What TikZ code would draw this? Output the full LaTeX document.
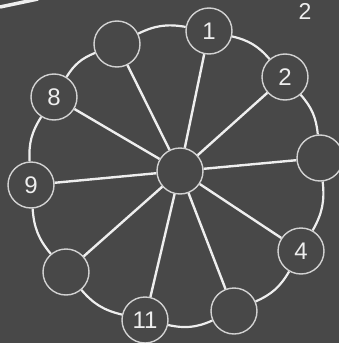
\documentclass[tikz,border=0pt]{standalone}
\usepackage{fontspec}
\setmainfont{Liberation Sans}
\usetikzlibrary{positioning}
\definecolor{board}{RGB}{72,72,72}
\definecolor{chalk}{RGB}{238,238,238}
\definecolor{ring}{RGB}{210,210,210}

\begin{document}
\begin{tikzpicture}[x=1pt, y=-1pt,
    vtx/.style={draw=ring, line width=1.4pt, circle, minimum size=46pt, inner sep=0pt, fill=board, text=chalk, font=\fontsize{24}{26}\selectfont},
    spoke/.style={draw=chalk, line width=2.4pt},
    rim/.style={draw=chalk, line width=2.2pt, bend left=18}]
  \fill[board] (0,0) rectangle (339,343);
  \useasboundingbox (0,0) rectangle (339,343);

  % rim of the wheel
  \node[vtx] (c) at (180,171) {};
  \node[vtx] (n1) at (209,31) {1};
  \node[vtx] (n2) at (285,77) {2};
  \node[vtx] (n3) at (320,158) {};
  \node[vtx] (n4) at (301,251) {4};
  \node[vtx] (n5) at (234,311) {};
  \node[vtx] (n11) at (145,320) {11};
  \node[vtx] (n6) at (66,272) {};
  \node[vtx] (n9) at (31,185) {9};
  \node[vtx] (n8) at (54,97) {8};
  \node[vtx] (n7) at (117,44) {};

  \foreach \v in {n1,n2,n3,n4,n5,n11,n6,n9,n8,n7}
    \draw[spoke] (c) -- (\v);

  \draw[rim] (n1) to (n2);
  \draw[rim] (n2) to (n3);
  \draw[rim] (n3) to (n4);
  \draw[rim] (n4) to (n5);
  \draw[rim] (n5) to (n11);
  \draw[rim] (n11) to (n6);
  \draw[rim] (n6) to (n9);
  \draw[rim] (n9) to (n8);
  \draw[rim] (n8) to (n7);
  \draw[rim] (n7) to (n1);

  % bits at the top edge
  \node[text=chalk, font=\fontsize{23}{25}\selectfont] (lbl) at (305,11) {2};
  \coordinate (s1) at (0,7);
  \coordinate (s2) at (38,-1);
  \draw[chalk, line width=3.5pt] (s1) -- (s2);
\end{tikzpicture}
\end{document}
